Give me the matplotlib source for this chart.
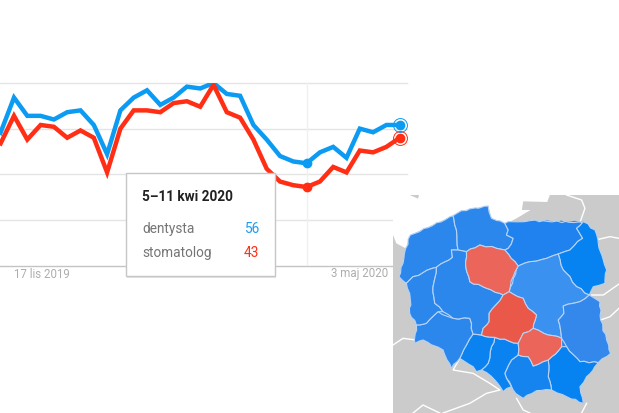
import matplotlib
matplotlib.use("Agg")
import matplotlib.pyplot as plt
from matplotlib.patches import Polygon, Rectangle
import numpy as np

W, H = 619, 413
dentysta = [80,73,92,82,82,80,84,85,77,61,85,92,96,88,92,98,97,100,94,93,77,69,60,57,56,62,65,59,75,73,77,77]
stomatolog = [72,67,82,69,77,76,70,74,70,51,75,85,85,84,89,90,87,99,84,81,69,53,46,44,43,46,54,51,63,62,65,70]
y_ticks = [0, 25, 50, 75, 100]
tick_labels = ["17 lis 2019", "3 maj 2020"]
tooltip_title = "5–11 kwi 2020"
selected = 24

BLUE, RED = "#0b9bf3", "#ff2e14"
plt.rcParams["font.family"] = ["Roboto", "DejaVu Sans"]
fig = plt.figure(figsize=(W/100, H/100), dpi=100, facecolor="white")

def rect(x0, y0, x1, y1):
    return [x0/W, 1-y1/H, (x1-x0)/W, (y1-y0)/H]

# ---- trend chart
ax = fig.add_axes(rect(0, 83, 407, 265.5))
step, first = 13.3, -12.6
ax.set_xlim((0-first)/step, (407-first)/step)
ax.set_ylim(0, 100)
ax.patch.set_alpha(0)
for s in ax.spines.values():
    s.set_visible(False)
ax.set_xticks([]); ax.set_yticks([])
for v in y_ticks:
    ax.axhline(v, color="#c4c4c4" if v == 0 else "#e4e4e4", lw=1.0, zorder=1, clip_on=False)
ax.axvline(selected, color="#f0f0f0", lw=1.0, zorder=1)
xs = np.arange(len(dentysta))
ax.plot(xs, dentysta, color=BLUE, lw=3.2, solid_joinstyle="miter", zorder=3)
ax.plot(xs, stomatolog, color=RED, lw=3.2, solid_joinstyle="miter", zorder=4)
for ser, c in ((dentysta, BLUE), (stomatolog, RED)):
    ax.plot(selected, ser[selected], "o", ms=6.0, color=c, zorder=5)
    ax.plot(xs[-1], ser[-1], "o", ms=6.0, color=c, zorder=5, clip_on=False)
    ax.plot(xs[-1], ser[-1], "o", ms=10, mfc="none", mec=c, mew=0.7, zorder=5, clip_on=False)

# ---- pixel overlay for labels and tooltip
ov = fig.add_axes([0, 0, 1, 1])
ov.set_xlim(0, W); ov.set_ylim(H, 0); ov.axis("off")
ov.text(14, 274, tick_labels[0], color="#adadad", fontsize=8.3, va="center", ha="left")
ov.text(388, 274, tick_labels[1], color="#adadad", fontsize=8.3, va="center", ha="right")
ov.add_patch(Rectangle((127, 174.5), 149, 103, fc="#e6e6e6", ec="none"))
ov.add_patch(Rectangle((126, 173), 149, 103, fc="white", ec="#c6c6c6", lw=1.0))
ov.text(142, 197, tooltip_title, color="#212121", fontsize=9.8, weight="bold", va="center")
ov.text(142, 229, "dentysta", color="#757575", fontsize=9.8, va="center")
ov.text(142, 253, "stomatolog", color="#757575", fontsize=9.8, va="center")
ov.text(259, 229, str(dentysta[selected]), color="#1a9cf5", fontsize=9.9, va="center", ha="right")
ov.text(259, 253, str(stomatolog[selected]), color="#ff2e14", fontsize=9.9, va="center", ha="right")

# ---- map (outlines traced in zoomed-map units)
mp = fig.add_axes(rect(393, 180, 619, 413))
mp.set_xlim(10, 687); mp.set_ylim(699, 0); mp.axis("off")
mp.add_patch(Rectangle((10, 0), 677, 699, fc="white", ec="none", zorder=0))
mp.add_patch(Rectangle((10, 45), 677, 654, fc="#cbcbcb", ec="none", zorder=1))
sea = [(10,45),(60,45),(85,56),(88,45),(480,45),(472,66),(400,64),(396,90),(422,90),(380,115),(355,128),(345,130),
       (305,115),(295,78),(215,92),(190,107),(62,165),(48,205),(20,190),(10,165)]
mp.add_patch(Polygon(sea, fc="white", ec="none", zorder=2))
neighbours = [[(530,45),(575,60),(585,85),(572,122)],
              [(625,178),(660,170),(687,175)],
              [(605,345),(640,345),(687,312)],
              [(632,420),(660,410),(687,385)],
              [(590,670),(575,699)],
              [(80,480),(40,475),(10,495)],
              [(210,535),(190,570),(250,580),(300,610),(330,630),(290,640),(240,670),(160,699)],
              [(70,699),(100,675),(150,699)],
              [(380,655),(400,690),(420,699)]]
for n in neighbours:
    mp.plot(*zip(*n), color="white", lw=1.0, zorder=3)

outline = [(62,165),(190,107),(215,92),(295,78),(305,115),(345,130),(355,125),(420,122),(580,125),(615,150),(625,190),(640,240),
           (650,270),(645,310),(610,320),(598,345),(630,365),(632,420),(650,480),(662,520),(625,548),(590,590),(570,620),(580,670),
           (530,650),(485,630),(440,632),(400,655),(370,630),(365,620),(340,635),(315,600),(275,570),(260,575),(250,560),(210,535),
           (185,565),(160,510),(100,480),(75,490),(80,435),(60,400),(62,360),(50,310),(28,290),(40,250),(48,205)]

regions = {
 "zachodniopomorskie": ([(62,165),(190,107),(200,150),(205,210),(185,210),(188,232),(178,240),(140,262),(100,278),(70,290),(50,310),(28,290),(40,250),(48,205)], "#2c87ec"),
 "pomorskie": ([(190,107),(215,92),(295,78),(305,115),(345,130),(355,150),(350,165),(370,175),(355,205),(345,210),(320,205),(270,195),(230,215),(205,210),(200,150)], "#2c87ec"),
 "warminsko-mazurskie": ([(355,125),(420,122),(580,128),(560,145),(578,175),(540,210),(505,222),(470,235),(420,245),(385,258),(345,210),(355,205),(370,175),(350,165),(355,150),(345,130)], "#1f82ee"),
 "podlaskie": ([(580,125),(615,150),(625,190),(640,240),(650,270),(645,310),(610,320),(598,345),(560,320),(540,290),(520,270),(505,222),(540,210),(578,175),(560,145)], "#0682f1"),
 "mazowieckie": ([(505,222),(520,270),(540,290),(560,320),(598,345),(570,365),(520,378),(522,400),(505,420),(515,475),(475,465),(430,445),(440,405),(415,385),(400,355),(358,335),(385,258),(420,245),(470,235)], "#3b91ef"),
 "lubelskie": ([(598,345),(630,365),(632,420),(650,480),(662,520),(625,548),(570,545),(530,500),(515,475),(505,420),(522,400),(520,378),(570,365)], "#3488ec"),
 "podkarpackie": ([(530,500),(570,545),(625,548),(590,590),(570,620),(580,670),(530,650),(485,630),(475,590),(475,540),(515,500)], "#0682f1"),
 "malopolskie": ([(385,525),(415,530),(430,558),(475,540),(475,590),(485,630),(440,632),(400,655),(370,630),(345,580),(365,540)], "#1684ef"),
 "slaskie": ([(315,472),(385,490),(385,525),(365,540),(345,580),(365,620),(340,635),(315,600),(275,570),(295,550),(305,500)], "#0a83f1"),
 "opolskie": ([(250,462),(275,465),(315,472),(305,500),(295,550),(275,570),(260,575),(250,560),(210,535),(230,495)], "#0a83f1"),
 "dolnoslaskie": ([(80,435),(110,430),(145,395),(190,415),(240,415),(250,462),(230,495),(210,535),(185,565),(160,510),(100,480),(75,490)], "#2c87ec"),
 "lubuskie": ([(70,290),(100,278),(140,262),(130,320),(135,370),(160,395),(145,395),(110,430),(80,435),(60,400),(62,360),(50,310)], "#2c87ec"),
 "wielkopolskie": ([(140,262),(178,240),(188,232),(185,210),(205,210),(230,215),(228,260),(240,305),(330,340),(340,345),(318,375),(298,400),(298,425),(280,445),(275,465),(250,462),(240,415),(190,415),(160,395),(135,370),(130,320)], "#2c87ec"),
 "kujawsko-pomorskie": ([(270,195),(320,205),(345,210),(385,258),(370,290),(358,335),(340,345),(330,340),(240,305),(228,260),(230,215)], "#ec655a"),
 "lodzkie": ([(340,345),(358,335),(400,355),(415,385),(440,405),(430,445),(400,460),(390,480),(385,490),(315,472),(275,465),(280,445),(298,425),(298,400),(318,375)], "#ea5849"),
 "swietokrzyskie": ([(400,460),(430,445),(475,465),(515,475),(515,500),(475,540),(430,558),(415,530),(385,525),(385,490),(390,480)], "#ec655a"),
}

def jag(pts, seg=13.0, amp=2.2):
    """Break each border into short wiggles, the same whichever way it is walked."""
    out = []
    for (x0, y0), (x1, y1) in zip(pts, pts[1:] + pts[:1]):
        n = max(int(np.hypot(x1-x0, y1-y0)//seg), 1)
        out.append((x0, y0))
        for k in range(1, n):
            t = k/n
            px, py = x0+(x1-x0)*t, y0+(y1-y0)*t
            out.append((px+amp*np.sin(px*1.3+py*0.7), py+amp*np.cos(px*0.6+py*1.7)))
    return out

mp.add_patch(Polygon(jag(outline), fc="#2c87ec", ec="none", zorder=3.5))
for name, (pts, col) in regions.items():
    mp.add_patch(Polygon(jag(pts), fc=col, ec="#b9d4f5", lw=0.8, joinstyle="round", zorder=4))

fig.savefig("out.png", dpi=100)
